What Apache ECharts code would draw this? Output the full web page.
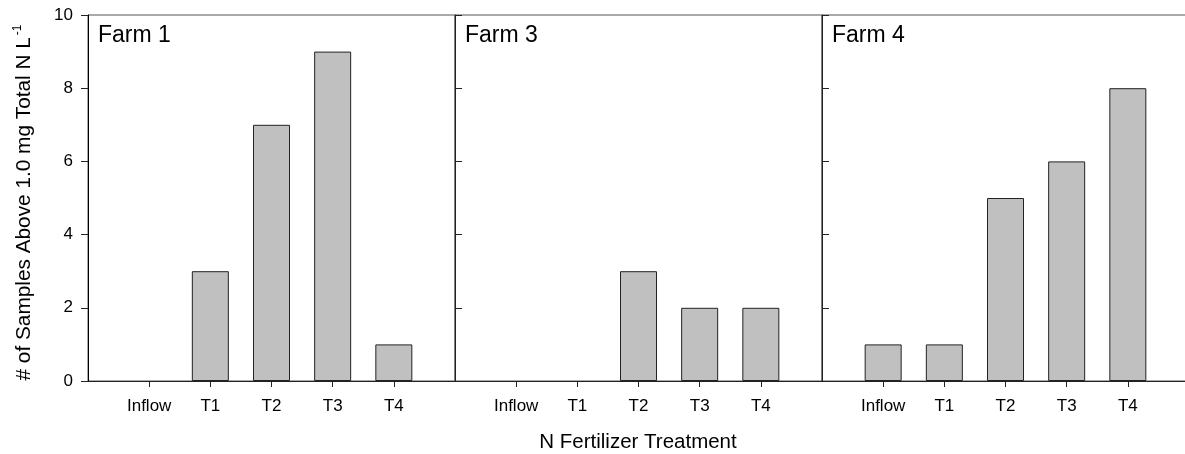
<!DOCTYPE html>
<html>
<head>
<meta charset="utf-8">
<script src="https://cdn.jsdelivr.net/npm/echarts@6/dist/echarts.min.js"></script>
<style>
  html, body { margin: 0; padding: 0; background: #fff; }
  #chart { width: 1185px; height: 454px; }
</style>
</head>
<body>
<div id="chart"></div>
<script>
// Treatments shown on each panel's x axis
const categories = ['Inflow', 'T1', 'T2', 'T3', 'T4'];
const farmNames = ['Farm 1', 'Farm 3', 'Farm 4'];
// Number of samples above 1.0 mg total N per litre, per treatment
const farm1 = [0, 3, 7, 9, 1];
const farm3 = [0, 0, 3, 2, 2];
const farm4 = [1, 1, 5, 6, 8];
const yTicks = [0, 2, 4, 6, 8, 10];

const farms = [farm1, farm3, farm4];
const FONT = 'Liberation Sans, Arial, sans-serif';
const AXIS = '#222';
const FRAME = '#555';

// Pad each axis with an empty slot on both ends so the bars sit inward
const axisCats = [''].concat(categories, ['']);

const panelLeft = 88, panelWidth = 367, panelTop = 15, panelHeight = 366;

const grids = [], xAxes = [], yAxes = [], series = [], titles = [];
farms.forEach((vals, i) => {
  grids.push({
    left: panelLeft + i * panelWidth, top: panelTop, width: panelWidth, height: panelHeight,
    outerBoundsMode: 'none', containLabel: false,
    show: true, borderColor: FRAME, borderWidth: 1, backgroundColor: 'transparent'
  });
  xAxes.push({
    type: 'category', gridIndex: i, data: axisCats, boundaryGap: false,
    axisLine: { lineStyle: { color: AXIS, width: 1 } },
    axisTick: { length: 6, lineStyle: { color: AXIS },
      interval: (idx, v) => v !== '' },
    axisLabel: { interval: 0, margin: 17, color: '#000', fontFamily: FONT, fontSize: 17 },
    splitLine: { show: false }
  });
  yAxes.push({
    type: 'value', gridIndex: i, min: yTicks[0], max: yTicks[yTicks.length - 1], interval: 2,
    axisLine: { show: true, lineStyle: { color: i === 0 ? '#000' : AXIS, width: 1 } },
    axisTick: { show: true, inside: i > 0, length: 7, lineStyle: { color: AXIS } },
    axisLabel: { show: i === 0, margin: 15, color: '#000', fontFamily: FONT, fontSize: 17 },
    splitLine: { show: false },
    name: i === 0 ? '{m|# of Samples Above 1.0 mg Total N L}{s|-1}' : '',
    nameLocation: 'middle', nameRotate: 90, nameGap: 52,
    nameTextStyle: {
      color: '#000', fontFamily: FONT, fontSize: 20.8, padding: [0, 9, 0, 0],
      rich: {
        m: { fontFamily: FONT, fontSize: 20.8, color: '#000' },
        s: { fontFamily: FONT, fontSize: 12, color: '#000', padding: [0, 0, 12, 2] }
      }
    }
  });
  series.push({
    type: 'bar', xAxisIndex: i, yAxisIndex: i,
    // zero-height bars get no outline so nothing shows on the axis
    data: ['-'].concat(vals.map(v => v === 0 ? { value: v, itemStyle: { borderWidth: 0 } } : v), ['-']),
    barWidth: 37,
    itemStyle: { color: '#c0c0c0', borderColor: '#222', borderWidth: 1 },
    silent: true
  });
  titles.push({
    text: farmNames[i], left: panelLeft + i * panelWidth + 10, top: 24, padding: 0,
    textStyle: { fontFamily: FONT, fontSize: 23, fontWeight: 'normal', color: '#000' }
  });
});
titles.push({
  text: 'N Fertilizer Treatment', left: 638, top: 432, padding: 0, textAlign: 'center',
  textStyle: { fontFamily: FONT, fontSize: 20.5, fontWeight: 'normal', color: '#000' }
});

const chart = echarts.init(document.getElementById('chart'), null, { renderer: 'canvas' });
chart.setOption({
  animation: false,
  backgroundColor: '#fff',
  title: titles,
  grid: grids,
  xAxis: xAxes,
  yAxis: yAxes,
  series: series
});
</script>
</body>
</html>
